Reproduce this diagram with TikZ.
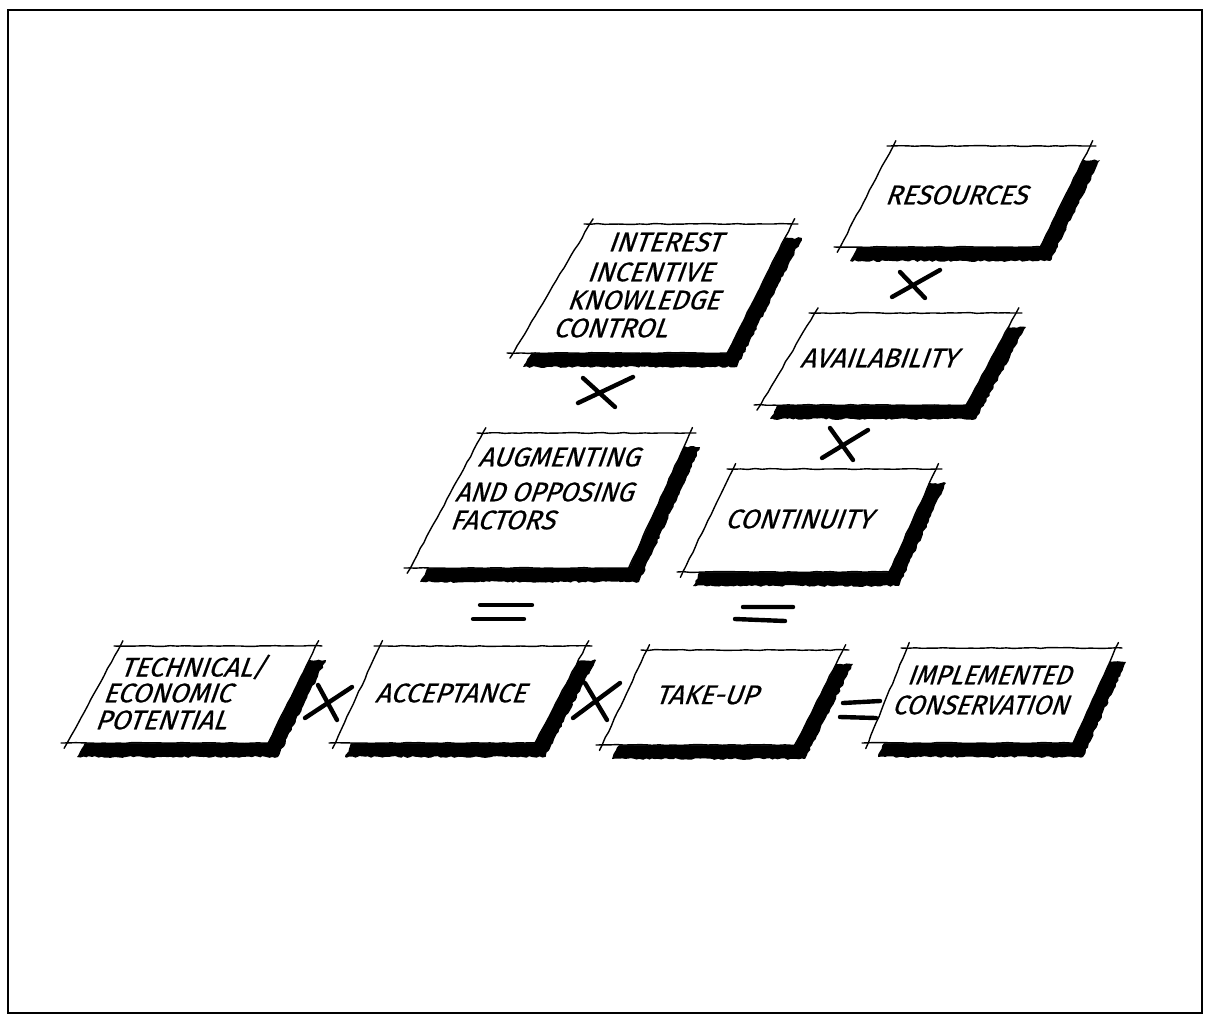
\documentclass[tikz,border=0pt]{standalone}
\usepackage{fontspec}
\newfontfamily\handfont[FakeBold=0.55]{Fira Sans}
\usetikzlibrary{calc,decorations.pathmorphing}
\tikzset{
  shadowfill/.style={fill=black, decorate, decoration={random steps, segment length=3pt, amplitude=0.9pt}},
  boxedge/.style={draw=black, line width=1.4pt, line cap=round, decorate, decoration={random steps, segment length=7pt, amplitude=0.45pt}},
  opstroke/.style={draw=black, line width=4.4pt, line cap=round},
  lbl/.style={font=\handfont\fontsize{27}{27}\selectfont, xslant=0.36, inner sep=0pt, anchor=west},
  frameline/.style={draw=black, line width=1.6pt}
}
% #1 name, #2 TLx, #3 TRx, #4 top y, #5 BLx, #6 BRx, #7 bottom y
\newcommand\pgram[7]{%
  \coordinate (#1-tl) at (#2,#4);
  \coordinate (#1-tr) at (#3,#4);
  \coordinate (#1-bl) at (#5,#7);
  \coordinate (#1-br) at (#6,#7);
  \path[shadowfill] ([shift={(10,14)}]#1-tl) -- ([shift={(10,14)}]#1-tr) -- ([shift={(10,14)}]#1-br) -- ([shift={(10,14)}]#1-bl) -- cycle;
  \fill[white] (#1-tl) -- (#1-tr) -- (#1-br) -- (#1-bl) -- cycle;
  \draw[boxedge] ($(#1-tl)!-6pt!(#1-tr)$) -- ($(#1-tr)!-6pt!(#1-tl)$);
  \draw[boxedge] ($(#1-tr)!-6pt!(#1-br)$) -- ($(#1-br)!-4pt!(#1-tr)$);
  \draw[boxedge] ($(#1-br)!-4pt!(#1-bl)$) -- ($(#1-bl)!-6pt!(#1-br)$);
  \draw[boxedge] ($(#1-bl)!-6pt!(#1-tl)$) -- ($(#1-tl)!-6pt!(#1-bl)$);
}
\begin{document}
\begin{tikzpicture}[x=1pt,y=-1pt]
\pgfmathsetseed{7}
\useasboundingbox (0,0) rectangle (1209,1020);
\draw[frameline] (8,10) rectangle (1202,1013);

% boxes
\pgram{res}{893}{1090}{146}{840}{1040}{247}
\pgram{int}{590}{792}{224}{513}{727}{353}
\pgram{avail}{815}{1016}{313}{760}{966}{405}
\pgram{aug}{483}{690}{433}{410}{629}{568}
\pgram{cont}{733}{936}{469}{683}{889}{572}
\pgram{tech}{120}{316}{646}{67}{268}{743}
\pgram{acc}{380}{586}{646}{335}{535}{743}
\pgram{take}{647}{843}{650}{602}{795}{745}
\pgram{impl}{907}{1116}{648}{868}{1073}{743}

% labels
\node[lbl] (res-1) at (888,195) {RESOURCES};
\node[lbl] (int-1) at (611,242) {INTEREST};
\node[lbl] (int-2) at (590,272) {INCENTIVE};
\node[lbl] (int-3) at (570,300) {KNOWLEDGE};
\node[lbl] (int-4) at (556,328) {CONTROL};
\node[lbl] (avail-1) at (803,358) {AVAILABILITY};
\node[lbl] (aug-1) at (481,457) {AUGMENTING};
\node[lbl, xscale=0.96] (aug-2) at (458,492) {AND OPPOSING};
\node[lbl] (aug-3) at (453,520) {FACTORS};
\node[lbl] (cont-1) at (728,519) {CONTINUITY};
\node[lbl] (tech-1) at (123,667) {TECHNICAL/};
\node[lbl] (tech-2) at (106,693) {ECONOMIC};
\node[lbl] (tech-3) at (98,720) {POTENTIAL};
\node[lbl] (acc-1) at (378,693) {ACCEPTANCE};
\node[lbl] (take-1) at (658,695) {TAKE-UP};
\node[lbl, xscale=0.95] (impl-1) at (910,675) {IMPLEMENTED};
\node[lbl, xscale=0.95] (impl-2) at (895,705) {CONSERVATION};

% operators
\draw[opstroke] (940,270) -- (892,297) (900,272) -- (925,298);
\draw[opstroke] (633,377) -- (578,403) (583,378) -- (615,407);
\draw[opstroke] (868,430) -- (822,458) (830,428) -- (853,460);
\draw[opstroke] (480,605) -- (532,605) (473,619) -- (524,619);
\draw[opstroke] (743,607) -- (793,607) (735,619) -- (785,621);
\draw[opstroke] (318,685) -- (337,720) (352,687) -- (305,718);
\draw[opstroke] (585,683) -- (607,720) (620,683) -- (573,718);
\draw[opstroke] (843,703) -- (880,701) (840,717) -- (876,718);
\end{tikzpicture}
\end{document}
